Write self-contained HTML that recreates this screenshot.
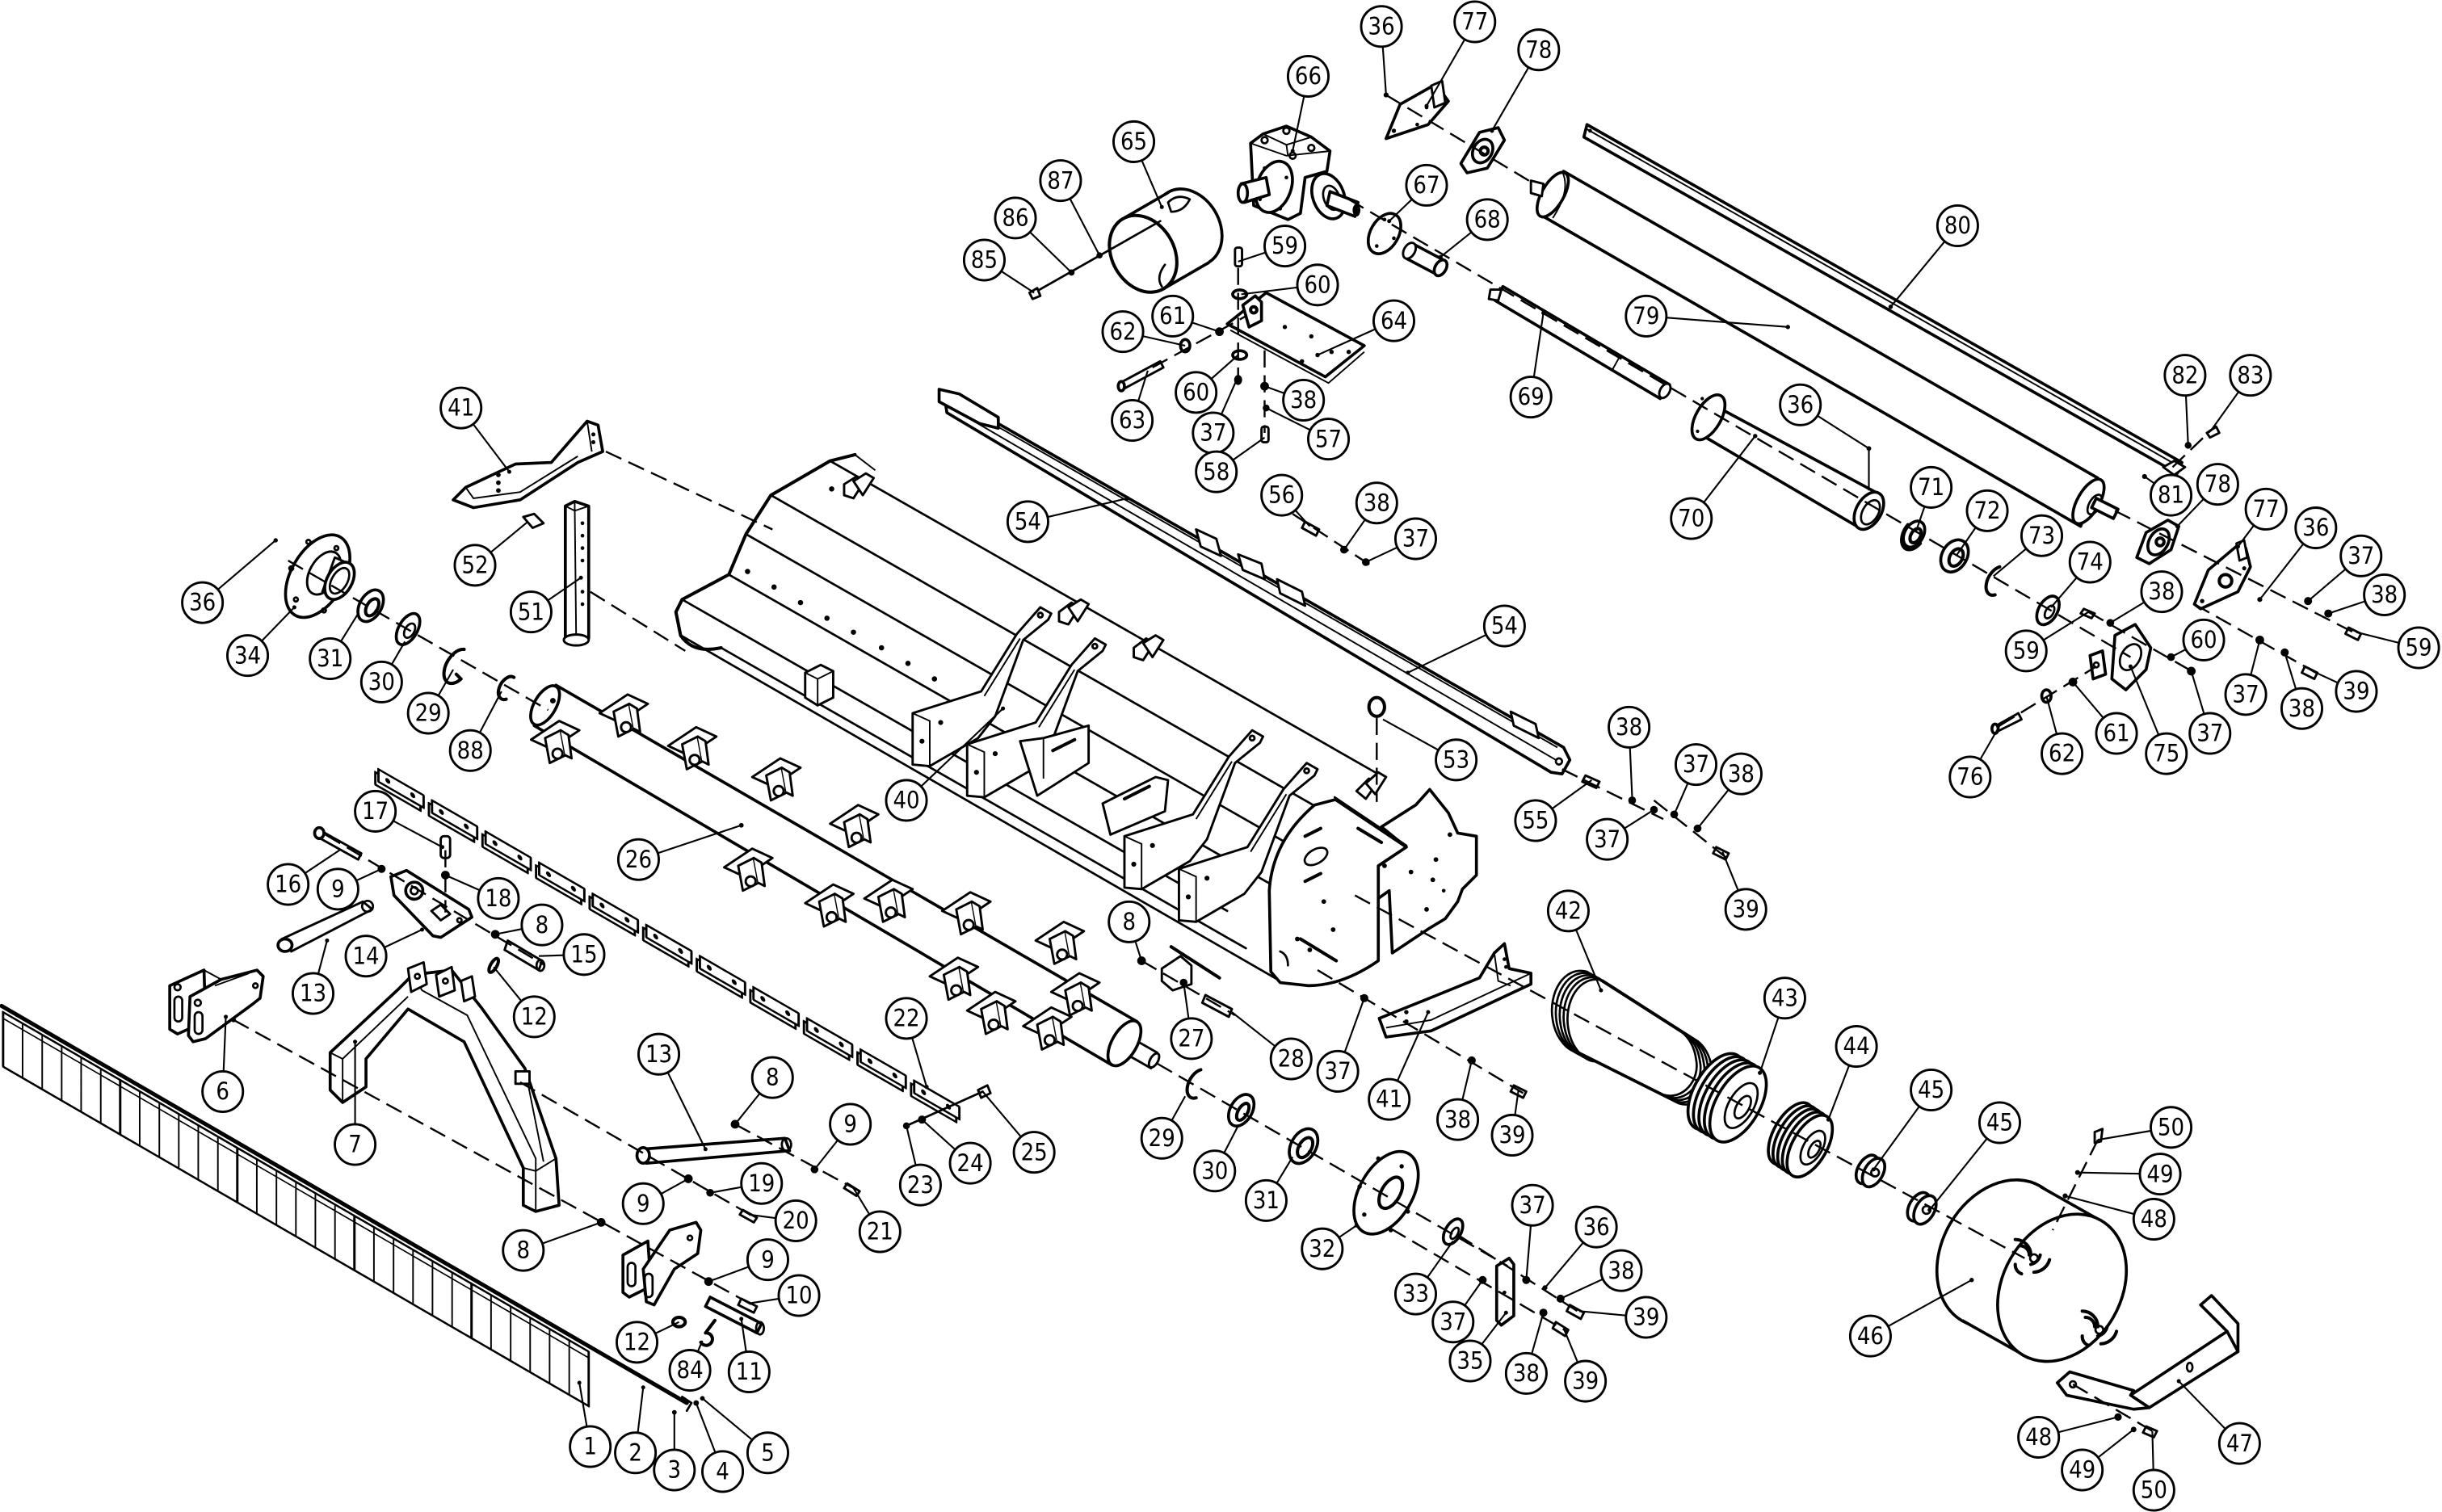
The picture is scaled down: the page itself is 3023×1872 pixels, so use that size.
<!DOCTYPE html>
<html><head><meta charset="utf-8"><title>Exploded parts diagram</title>
<style>
html,body{margin:0;padding:0;background:#fff;}
svg{display:block;}
.p{fill:#fff;stroke:#000;stroke-width:1.5;stroke-linejoin:round;stroke-linecap:round}
.q{fill:#fff;stroke:#000;stroke-width:1.9;stroke-linejoin:round}
.l{fill:none;stroke:#000;stroke-width:1.4;stroke-linecap:round;stroke-linejoin:round}
.b{fill:none;stroke:#000;stroke-width:2.1;stroke-linecap:round;stroke-linejoin:round}
.t{fill:none;stroke:#000;stroke-width:1.0}
.d{fill:none;stroke:#000;stroke-width:1.25;stroke-dasharray:11 5}
.k{fill:#000;stroke:none}
.ld line,.ld path{stroke:#000;stroke-width:1.1;fill:none}
.cc circle{fill:#fff;stroke:#000;stroke-width:1.5}
.cc text{font-family:"Liberation Sans Narrow","DejaVu Sans Condensed","Liberation Sans",sans-serif;font-stretch:condensed;font-size:15px;text-anchor:middle;fill:#000}
</style></head>
<body>
<svg xmlns="http://www.w3.org/2000/svg" width="3023" height="1872" viewBox="0 0 1568 971" preserveAspectRatio="none">
<defs>
<g id="fg"><rect class="p" x="0" y="0" width="75.2" height="35"/><path class="t" d="M12.5,0V35M25.1,0V35M37.6,0V35M50.1,0V35M62.7,0V35M0,4H75.2"/></g>
<g id="fb"><rect class="p" x="-2" y="3" width="29" height="8"/><rect class="p" x="0" y="0" width="29" height="8"/><circle class="k" cx="6" cy="4" r="1.6"/><circle class="k" cx="22" cy="4" r="1.6"/></g>
<g id="lug"><path class="p" d="M-15,-3 L3,-15 L16,-9 L-2,3 Z"/><path class="p" d="M-6,-4 L4,-9 L7,7 L-3,12 Z"/><circle class="p" cx="2" cy="6" r="3.2"/><path class="p" d="M4,-9 L9,-6 L11,9 L7,7"/></g>
<g id="br"><path class="p" d="M586,491 L586,458 L630,444 L653,407 L668,390 L675,394 L673,398 L657,411 L639,460 L628,474 L597,492 Z"/><path class="t" d="M586,458 L597,463 L597,492 M632,447 L655,410"/><circle class="k" cx="592" cy="476" r="1.6"/><circle class="k" cx="604" cy="464" r="1.6"/><circle class="p" cx="668" cy="395" r="1.5"/></g>
</defs>

<!-- ================= FLAP STRIP (1,2) ================= -->
<use href="#fg" transform="translate(2,650) skewY(30.1)"/>
<use href="#fg" transform="translate(77.2,693.6) skewY(30.1)"/>
<use href="#fg" transform="translate(152.4,737.2) skewY(30.1)"/>
<use href="#fg" transform="translate(227.6,780.8) skewY(30.1)"/>
<use href="#fg" transform="translate(302.8,824.4) skewY(30.1)"/>
<path class="b" d="M1,646 L441,901" style="stroke-width:2.6"/>
<path class="l" d="M438,897 L444,901 L441,906"/>
<circle class="k" cx="433" cy="907" r="1.5"/><circle class="k" cx="447" cy="901" r="1.8"/><circle class="k" cx="451" cy="898" r="1.5"/>

<!-- ================= HITCH UPPER BRACKET 6 ================= -->
<path class="q" d="M109,633 L131,623 L132,656 L114,664 L109,661 Z"/>
<rect class="l" x="112" y="640" width="5" height="16" rx="2.5"/>
<circle class="l" cx="114" cy="634" r="2"/>
<path class="q" d="M122,640 L142,629 L165,623 L169,627 L167,641 L162,645 L132,667 L124,669 L121,665 Z"/>
<rect class="l" x="125" y="650" width="5" height="14" rx="2.5"/>
<circle class="l" cx="127" cy="644" r="2"/><circle class="k" cx="150" cy="655" r="1.5"/><circle class="l" cx="164" cy="633" r="1.5"/>
<path class="t" d="M131,623 L142,629 M138,633 L160,625"/>

<!-- ================= A-FRAME 7 ================= -->
<path class="q" d="M212,676 L255,636 L265,626 L290,623 L309,647 L337,686 L357,744 L359,774 L344,778 L336,774 L336,750 L298,669 L262,648 L235,680 L235,698 L220,708 L212,700 Z"/>
<path class="t" d="M220,680 L262,640 M220,680 L220,707 M212,676 L220,680 M265,626 L271,636 L300,652 L344,744 L344,778 M337,686 L349,746 M336,750 L344,752 L357,744"/>
<path class="p" d="M262,622 L272,618 L274,632 L264,637 Z"/><circle class="l" cx="268" cy="627" r="1.6"/>
<path class="p" d="M280,626 L290,621 L292,636 L282,640 Z"/><circle class="l" cx="286" cy="630" r="1.6"/>
<path class="p" d="M296,630 L303,627 L305,640 L298,643 Z"/>
<rect class="p" x="331" y="688" width="9" height="8"/>

<!-- ================= UPPER HITCH PARTS ================= -->
<path class="p" d="M205,533 L232,548 L230,552 L203,537 Z"/><ellipse class="q" cx="205" cy="535" rx="3" ry="3.5"/>
<circle class="k" cx="245" cy="558" r="2.6"/>
<path class="q" d="M251,563 L261,559 L301,584 L303,589 L283,602 L278,601 L253,575 Z"/>
<circle class="q" cx="266" cy="572" r="5.5"/><circle class="l" cx="266" cy="572" r="2.3"/>
<path class="p" d="M277,585 L283,581 L289,587 L283,591 Z"/><circle class="l" cx="295" cy="591" r="1.4"/>
<path class="p" d="M181,603 L233,579 L239,584 L187,611 Z"/><ellipse class="q" cx="183" cy="607" rx="4.5" ry="4"/><ellipse class="l" cx="236" cy="582" rx="3.5" ry="3.5"/>
<rect class="p" x="283" y="537" width="6" height="14" rx="2"/><circle class="k" cx="286" cy="562" r="2.8"/>
<circle class="k" cx="318" cy="600" r="2.8"/>
<path class="p" d="M326,604 L348,617 L346,623 L324,610 Z"/><ellipse class="l" cx="347" cy="620" rx="2.5" ry="3.5"/>
<ellipse class="b" cx="317" cy="620" rx="2" ry="5" transform="rotate(30 317 620)"/>

<!-- ================= LOWER HITCH ================= -->
<path class="q" d="M412,738 L504,731 L507,739 L415,747 Z"/><ellipse class="q" cx="413" cy="742" rx="4" ry="5"/><ellipse class="l" cx="505" cy="735" rx="3" ry="4"/>
<circle class="k" cx="472" cy="722" r="2.8"/><circle class="k" cx="442" cy="757" r="2.8"/><circle class="k" cx="456" cy="766" r="2.5"/>
<path class="p" d="M477,777 L486,782 L484,785 L475,780 Z"/>
<circle class="k" cx="523" cy="751" r="2.5"/><path class="p" d="M544,760 L552,765 L550,768 L542,763 Z"/>
<path class="q" d="M400,806 L416,797 L418,826 L404,833 L400,830 Z"/><rect class="l" x="403" y="811" width="5" height="15" rx="2.5"/>
<path class="q" d="M413,815 L430,790 L447,785 L450,790 L448,805 L433,815 L420,838 L415,836 Z"/><rect class="l" x="414" y="818" width="5" height="15" rx="2.5"/><circle class="l" cx="443" cy="795" r="1.5"/>
<circle class="k" cx="386" cy="785" r="2.8"/><circle class="k" cx="455" cy="823" r="2.8"/>
<path class="p" d="M476,834 L486,839 L484,843 L474,838 Z"/>
<path class="q" d="M456,833 L489,850 L486,856 L453,839 Z"/><ellipse class="l" cx="488" cy="853" rx="2.5" ry="4"/>
<ellipse class="b" cx="436" cy="849" rx="4" ry="3"/>
<path class="b" d="M450,862 a4,4 0 1,0 3,-6 l6,-8"/>

<!-- ================= FLAIL BAR ROW (22) ================= -->
<use href="#fb" transform="translate(243,494) skewY(30)"/>
<use href="#fb" transform="translate(277.4,514) skewY(30)"/>
<use href="#fb" transform="translate(311.8,534) skewY(30)"/>
<use href="#fb" transform="translate(346.2,554) skewY(30)"/>
<use href="#fb" transform="translate(380.6,574) skewY(30)"/>
<use href="#fb" transform="translate(415,594) skewY(30)"/>
<use href="#fb" transform="translate(449.4,614) skewY(30)"/>
<use href="#fb" transform="translate(483.8,634) skewY(30)"/>
<use href="#fb" transform="translate(518.2,654) skewY(30)"/>
<use href="#fb" transform="translate(552.6,674) skewY(30)"/>
<use href="#fb" transform="translate(587,694) skewY(30)"/>
<circle class="k" cx="582" cy="723" r="2.2"/><circle class="k" cx="592" cy="719" r="2.6"/><path class="p" d="M628,700 L634,697 L636,702 L630,705 Z"/>
<path class="l" d="M582,723 L631,701"/>

<!-- ================= LEFT SHIELD 41, STAND 51, PIN 52 ================= -->
<path class="q" d="M291,321 L299,313 L331,298 L354,297 L377,270.5 L384,273 L387,290 L371,297 L334,321 L304,326 Z"/>
<path class="t" d="M299,313 L304,320 L334,316 L371,293 M377,270.5 L380,290"/>
<circle class="k" cx="320" cy="305" r="1.5"/><circle class="k" cx="320" cy="310" r="1.5"/><circle class="k" cx="320" cy="315" r="1.5"/><circle class="k" cx="381" cy="279" r="1.3"/><circle class="k" cx="381" cy="284" r="1.3"/>
<path class="q" d="M363,325 L369,322 L378,325 L378,410 L370,414 L363,410 Z"/><path class="t" d="M369,322 L370,414 M363,325 L369,328 L378,325"/>
<circle class="k" cx="374" cy="336" r="1.2"/><circle class="k" cx="374" cy="344" r="1.2"/><circle class="k" cx="374" cy="352" r="1.2"/><circle class="k" cx="374" cy="360" r="1.2"/><circle class="k" cx="374" cy="380" r="1.2"/><circle class="k" cx="374" cy="388" r="1.2"/>
<ellipse class="p" cx="370" cy="411" rx="8" ry="3.5"/>
<path class="p" d="M336,332 L343,330 L349,336 L342,339 Z"/>

<!-- ================= LEFT BEARING SET ================= -->
<circle class="k" cx="177" cy="347" r="1.4"/>
<ellipse class="q" cx="204" cy="370" rx="17" ry="29" transform="rotate(30 204 370)"/>
<circle class="l" cx="198" cy="348" r="1.3"/><circle class="l" cx="216" cy="352" r="1.3"/><circle class="l" cx="190" cy="385" r="1.3"/><circle class="l" cx="208" cy="392" r="1.3"/><circle class="l" cx="187" cy="365" r="1.3"/>
<ellipse class="p" cx="208" cy="368" rx="9" ry="15" transform="rotate(30 208 368)"/>
<path class="p" d="M215,358 L224,362 L216,384 L207,380 Z"/>
<ellipse class="q" cx="218" cy="373" rx="8" ry="13" transform="rotate(30 218 373)"/><ellipse class="l" cx="218" cy="373" rx="5" ry="9" transform="rotate(30 218 373)"/>
<ellipse class="q" cx="238" cy="389" rx="7" ry="11" transform="rotate(30 238 389)"/><ellipse class="b" cx="239" cy="390" rx="3.5" ry="6" transform="rotate(30 239 390)"/>
<ellipse class="q" cx="262" cy="404" rx="6" ry="11" transform="rotate(30 262 404)"/><ellipse class="l" cx="263" cy="405" rx="3" ry="5" transform="rotate(30 263 405)"/>
<path class="b" d="M298,417 A7,12 30 1,0 296,436 M296,436 l-3,-3"/>
<path class="b" d="M330,435 A5,8 30 1,0 325,449"/>

<!-- ================= HOOD ================= -->
<g class="l">
<path d="M533,296 L883,496"/>
<path d="M495,318 L845,518"/>
<path d="M479,343 L829,543"/>
<path d="M468,369 L818,569"/>
<path d="M438,385 L788,585"/>
<path d="M437,408 L822,630"/>
<path d="M463,416 L800,609"/>
</g>
<path class="b" d="M549,292 L533,296 L495,318 L479,343 L468,369 L438,385 L434,393 L437,408 Q445,420 463,416"/>
<path class="t" d="M533,296 L549,292 L562,302"/>
<circle class="k" cx="480" cy="367" r="1.7"/><circle class="k" cx="497" cy="377" r="1.7"/><circle class="k" cx="514" cy="387" r="1.7"/><circle class="k" cx="531" cy="397" r="1.7"/><circle class="k" cx="548" cy="406" r="1.7"/><circle class="k" cx="566" cy="416" r="1.7"/><circle class="k" cx="583" cy="426" r="1.7"/><circle class="k" cx="600" cy="436" r="1.7"/>
<circle class="k" cx="534" cy="314" r="1.7"/>
<path class="p" d="M542,311 L550,306 L555,309 L548,320 L542,318 Z"/><path class="p" d="M548,309 L556,304 L561,307 L554,318 Z"/>
<path class="p" d="M680,393 L688,387 L693,390 L686,401 L680,399 Z"/><path class="p" d="M686,390 L694,385 L699,388 L692,399 Z"/>
<path class="p" d="M728,416 L736,410 L741,413 L734,424 L728,422 Z"/><path class="p" d="M734,413 L742,408 L747,411 L740,422 Z"/>
<path class="p" d="M517,432 L527,427 L535,431 L535,448 L525,453 L517,448 Z"/><path class="t" d="M517,432 L525,436 L525,453 M525,436 L535,431"/>
<!-- brackets 40 -->
<use href="#br"/>
<use href="#br" transform="translate(35,20)"/>
<path class="p" d="M655,476 L670,474 L699,466 L699,490 L666,511 Z"/><path class="b" d="M676,482 L690,475"/><path class="t" d="M670,474 L670,500"/>
<path class="p" d="M708,516 L742,499 L750,501 L748,521 L713,536 Z"/><path class="b" d="M722,513 L738,505"/>
<use href="#br" transform="translate(136,79)"/>
<use href="#br" transform="translate(171,100)"/>
<!-- eye bolt 53 -->
<ellipse class="b" cx="884" cy="454" rx="5" ry="6"/>
<path class="p" d="M871,508 L879,500 L884,503 L877,513 Z"/><path class="p" d="M877,503 L885,496 L890,499 L883,510 Z"/>
<!-- end plate -->
<path class="q" d="M885,556 L903,544 L887,531 L909,517 L918,507 L930,522 L936,535 L948,537 L948,562 L939,571 L936,579 L928,590 L918,596 L894,612 L892,572 L885,577 Z"/>
<path class="q" d="M816,624 L815,572 Q817,540 844,517 L857.5,513.5 L903,544 L885,556 L885,617 Q862,633 840,633 L822,631 Z"/>
<path class="l" d="M857,512 L903,543"/>
<ellipse class="l" cx="845" cy="550" rx="8" ry="4.5" transform="rotate(-30 845 550)"/>
<path class="b" d="M838,537 L848,532 M838,566 L848,561 M835,603 L858,617 M872,532 L887,541"/>
<circle class="k" cx="850" cy="579" r="1.5"/><circle class="k" cx="856" cy="597" r="1.5"/><circle class="k" cx="833" cy="603" r="1.5"/><circle class="k" cx="841" cy="610" r="1.5"/><circle class="k" cx="889" cy="556" r="1.5"/><circle class="k" cx="906" cy="560" r="1.5"/><circle class="k" cx="922" cy="552" r="1.5"/><circle class="k" cx="920" cy="565" r="1.5"/><circle class="k" cx="916" cy="584" r="1.5"/><circle class="k" cx="931" cy="536" r="1.5"/><circle class="k" cx="927" cy="572" r="1.2"/>
<path class="l" d="M822,611 q5,2 5,9"/>

<!-- ================= RAIL 54 ================= -->
<path class="q" d="M606,252 L1004,480 L1008,488 L1003,497 L996,496 L608,265 Z"/>
<path class="t" d="M611,257 L1000,480 M609,261 L999,488"/>
<path class="q" d="M603,250 L616,253 L641,268 L641,275 L629,272 L603,258 Z"/>
<path class="p" d="M768,340 L781,346 L784,357 L771,351 Z"/><path class="p" d="M795,356 L810,362 L812,372 L798,366 Z"/>
<path class="p" d="M820,372 L836,380 L838,389 L822,381 Z"/><path class="p" d="M970,457 L986,465 L988,474 L972,466 Z"/>
<circle class="l" cx="1001" cy="489" r="2"/>

<!-- ================= ROTOR 26 ================= -->
<path class="q" d="M357,440 L730,656 L714,684 L343,466 Z"/>
<ellipse class="q" cx="350" cy="453" rx="7" ry="14" transform="rotate(30 350 453)"/>
<circle class="k" cx="355" cy="450" r="1.8"/>
<path class="p" d="M722,664 L743,676 L739,686 L718,674 Z"/>
<ellipse class="q" cx="722" cy="670" rx="8" ry="16" transform="rotate(30 722 670)"/>
<ellipse class="p" cx="741" cy="681" rx="2.5" ry="5" transform="rotate(30 741 681)"/>
<use href="#lug" transform="translate(356,478)"/>
<use href="#lug" transform="translate(400,461)"/>
<use href="#lug" transform="translate(444,482)"/>
<use href="#lug" transform="translate(498,502)"/>
<use href="#lug" transform="translate(548,532)"/>
<use href="#lug" transform="translate(620,588)"/>
<use href="#lug" transform="translate(680,607)"/>
<use href="#lug" transform="translate(480,560)"/>
<use href="#lug" transform="translate(532,583)"/>
<use href="#lug" transform="translate(570,580)"/>
<use href="#lug" transform="translate(612,630)"/>
<use href="#lug" transform="translate(636,652)"/>
<use href="#lug" transform="translate(672,662)"/>
<use href="#lug" transform="translate(690,640)"/>
<circle class="k" cx="476" cy="530" r="1.5"/>

<!-- ================= 27/28, right rotor end parts ================= -->
<circle class="k" cx="733" cy="617" r="2.8"/>
<path class="b" d="M752,608 L783,628"/>
<path class="p" d="M746,622 L758,614 L765,620 L765,632 L753,636 L746,630 Z"/><circle class="k" cx="760" cy="631" r="2.5"/>
<path class="p" d="M774,639 L791,648 L789,653 L772,644 Z"/>
<path class="b" d="M771,687 A6,10 30 1,0 768,705"/>
<ellipse class="q" cx="797" cy="713" rx="7" ry="11" transform="rotate(30 797 713)"/><ellipse class="b" cx="798" cy="714" rx="3" ry="6" transform="rotate(30 798 714)"/>
<ellipse class="q" cx="837" cy="736" rx="8" ry="12" transform="rotate(30 837 736)"/><ellipse class="b" cx="838" cy="737" rx="4" ry="7" transform="rotate(30 838 737)"/>
<ellipse class="q" cx="890" cy="766" rx="17" ry="29" transform="rotate(30 890 766)"/>
<ellipse class="b" cx="893" cy="766" rx="6" ry="11" transform="rotate(30 893 766)"/>
<circle class="k" cx="885" cy="744" r="1.4"/><circle class="k" cx="900" cy="749" r="1.4"/><circle class="k" cx="876" cy="780" r="1.4"/><circle class="k" cx="893" cy="790" r="1.4"/><circle class="k" cx="904" cy="778" r="1.4"/><circle class="k" cx="873" cy="762" r="1.4"/>
<ellipse class="q" cx="933" cy="791" rx="5" ry="9" transform="rotate(30 933 791)"/><ellipse class="l" cx="934" cy="792" rx="2" ry="4" transform="rotate(30 934 792)"/>
<path class="q" d="M961,813 L969,808 L972,812 L972,845 L964,851 L961,848 Z"/><circle class="k" cx="966" cy="830" r="1.2"/>
<circle class="k" cx="952" cy="822" r="2.6"/><circle class="k" cx="980" cy="822" r="2.6"/><circle class="k" cx="992" cy="827" r="1.6"/><circle class="k" cx="1002" cy="834" r="2.6"/>
<path class="p" d="M1008,838 L1017,843 L1015,847 L1006,842 Z"/>
<circle class="k" cx="991" cy="843" r="2.6"/><path class="p" d="M999,849 L1007,854 L1005,858 L997,853 Z"/>

<!-- ================= RIGHT SHIELD 41 ================= -->
<path class="q" d="M885.6,654 L915.5,642 L950,628 L959.5,612 L966,606 L969,622 L983,625 L983,632 L919,662 L890,666 Z"/>
<path class="t" d="M890,660 L919,655 L983,625 M959.5,612 L962,630 L970,633"/>
<circle class="k" cx="903" cy="650" r="1.4"/><circle class="k" cx="903" cy="656" r="1.4"/><circle class="k" cx="966" cy="616" r="1.2"/><circle class="k" cx="967" cy="621" r="1.2"/>
<circle class="k" cx="876" cy="641" r="2.6"/><circle class="k" cx="945" cy="681" r="2.6"/><path class="p" d="M972,697 L980,701 L978,705 L970,701 Z"/>

<!-- ================= BELT / PULLEYS / MOTOR ================= -->
<g class="l">
<path d="M1019,624 C1004,620 994,638 997,655 C999,668 1008,676 1014,676 L1068,703 C1080,707 1092,694 1089,680 C1088,672 1084,666 1080,663 Z"/>
<path transform="translate(2.5,1.4)" d="M1019,624 C1004,620 994,638 997,655 C999,668 1008,676 1014,676 L1068,703 C1080,707 1092,694 1089,680 C1088,672 1084,666 1080,663 Z"/>
<path transform="translate(5,2.8)" d="M1019,624 C1004,620 994,638 997,655 C999,668 1008,676 1014,676 L1068,703 C1080,707 1092,694 1089,680 C1088,672 1084,666 1080,663 Z"/>
<path transform="translate(7.5,4.2)" d="M1019,624 C1004,620 994,638 997,655 C999,668 1008,676 1014,676 L1068,703 C1080,707 1092,694 1089,680 C1088,672 1084,666 1080,663 Z"/>
<path transform="translate(10,5.6)" d="M1019,624 C1004,620 994,638 997,655 C999,668 1008,676 1014,676 L1068,703 C1080,707 1092,694 1089,680 C1088,672 1084,666 1080,663 Z"/>
</g>
<ellipse class="q" cx="1102" cy="701" rx="14" ry="27" transform="rotate(30 1102 701)"/>
<ellipse class="q" cx="1105.5" cy="703" rx="14" ry="27" transform="rotate(30 1105.5 703)"/>
<ellipse class="q" cx="1109" cy="705" rx="14" ry="27" transform="rotate(30 1109 705)"/>
<ellipse class="q" cx="1112.5" cy="707" rx="14" ry="27" transform="rotate(30 1112.5 707)"/>
<ellipse class="q" cx="1116" cy="709" rx="14" ry="27" transform="rotate(30 1116 709)"/>
<ellipse class="l" cx="1118" cy="710" rx="8" ry="16" transform="rotate(30 1118 710)"/><ellipse class="l" cx="1119" cy="711" rx="4" ry="8" transform="rotate(30 1119 711)"/>
<ellipse class="q" cx="1150" cy="728" rx="11" ry="22" transform="rotate(30 1150 728)"/>
<ellipse class="q" cx="1153" cy="730" rx="11" ry="22" transform="rotate(30 1153 730)"/>
<ellipse class="q" cx="1156" cy="732" rx="11" ry="22" transform="rotate(30 1156 732)"/>
<ellipse class="q" cx="1159" cy="734" rx="11" ry="22" transform="rotate(30 1159 734)"/>
<ellipse class="q" cx="1162" cy="736" rx="11" ry="22" transform="rotate(30 1162 736)"/>
<ellipse class="l" cx="1164" cy="737" rx="6" ry="12" transform="rotate(30 1164 737)"/><ellipse class="l" cx="1165" cy="738" rx="3" ry="6" transform="rotate(30 1165 738)"/>
<ellipse class="q" cx="1199" cy="751" rx="6" ry="10" transform="rotate(30 1199 751)"/><ellipse class="q" cx="1203" cy="753" rx="6" ry="10" transform="rotate(30 1203 753)"/><circle class="l" cx="1204" cy="753" r="2.5"/>
<ellipse class="q" cx="1232" cy="775" rx="6" ry="10" transform="rotate(30 1232 775)"/><ellipse class="q" cx="1236" cy="777" rx="6" ry="10" transform="rotate(30 1236 777)"/><circle class="l" cx="1237" cy="777" r="2.5"/>
<!-- motor -->
<ellipse class="q" cx="1285" cy="805" rx="38" ry="50" transform="rotate(30 1285 805)"/>
<path fill="#fff" stroke="none" d="M1310,762 L1349,784 L1299,870 L1260,848 Z"/>
<path class="q" d="M1310,762 L1349,784 M1260,848 L1299,870"/>
<ellipse class="q" cx="1324" cy="827" rx="38" ry="50" transform="rotate(30 1324 827)"/>
<g class="b">
<path d="M1297,800 a6,6 0 0,1 6,6 M1294,796 a10,10 0 0,1 10,10 M1298,818 a6,6 0 0,1 -4,-6 M1304,812 a8,8 0 0,0 6,-6 M1306,817 a11,11 0 0,0 10,-8"/>
<path d="M1339,846 a6,6 0 0,1 6,6 M1337,842 a10,10 0 0,1 10,10 M1341,864 a6,6 0 0,1 -4,-6 M1347,858 a8,8 0 0,0 6,-6 M1349,863 a11,11 0 0,0 10,-8"/>
</g>
<circle class="l" cx="1306" cy="808" r="2.5"/><circle class="l" cx="1348" cy="854" r="2.5"/>
<circle class="k" cx="1266" cy="822" r="1.4"/>
<path class="p" d="M1345,727 L1350,725 L1349,733 L1345,734 Z"/><circle class="k" cx="1334" cy="753" r="1.6"/><circle class="k" cx="1326" cy="768" r="1.6"/>
<!-- bracket 47 -->
<path class="q" d="M1413,838 L1420,832 L1437,850 L1437,868 L1430,872 L1430,855 Z"/>
<path class="q" d="M1430,855 L1437,868 L1380,904 L1368,896 Z"/>
<path class="q" d="M1321,888 L1329,881 L1370,893 L1368,896 L1380,904 L1370,905 L1327,896 Z"/>
<ellipse class="l" cx="1406" cy="878" rx="1.8" ry="2.8"/><circle class="l" cx="1331" cy="889" r="2"/><circle class="k" cx="1399" cy="887" r="1.3"/>
<circle class="k" cx="1360" cy="910" r="2.4"/><circle class="k" cx="1370" cy="918" r="1.8"/><path class="p" d="M1378,916 L1385,919 L1383,923 L1376,920 Z"/>

<!-- ================= TOP GROUP ================= -->
<!-- guard 65 -->
<ellipse class="q" cx="763" cy="146" rx="20" ry="26" transform="rotate(-30 763 146)"/>
<path fill="#fff" stroke="none" d="M721,140.5 L750.4,123.5 L776.4,168.5 L747,185.5 Z"/>
<path class="q" d="M721,140.5 L750.4,123.5 M747,185.5 L776.4,168.5"/>
<ellipse class="b" cx="734" cy="163" rx="20" ry="26" transform="rotate(-30 734 163)" fill="#fff"/>
<path class="l" d="M750,130 q6,-6 14,-2 q-4,8 -12,8 Z"/><path class="l" d="M748,170 q-6,8 -2,14"/>
<path class="l" d="M664,188 L745,142"/>
<path class="p" d="M661,188 L666,185 L668,190 L663,192 Z"/><circle class="k" cx="688" cy="175" r="2"/><circle class="k" cx="706" cy="164" r="2"/>
<!-- gearbox 66 -->
<path class="q" d="M803,92 L811,86 L826,81 L842,88 L854,97 L852,110 L838,114 L835,137 L827,141 L805,132 Z"/>
<path class="t" d="M811,86 L826,93 L842,88 M826,93 L827,100 M803,92 L826,100 L854,97"/>
<circle class="l" cx="812" cy="90" r="2"/><circle class="l" cx="826" cy="84" r="2"/><circle class="l" cx="842" cy="95" r="2"/><circle class="l" cx="830" cy="100" r="2"/>
<ellipse class="q" cx="818" cy="120" rx="11" ry="17" transform="rotate(20 818 120)"/>
<circle class="k" cx="812" cy="108" r="1.2"/><circle class="k" cx="826" cy="114" r="1.2"/><circle class="k" cx="822" cy="134" r="1.2"/><circle class="k" cx="809" cy="128" r="1.2"/>
<path class="q" d="M797,118 L813,114 L815,125 L799,130 Z"/><ellipse class="q" cx="798" cy="124" rx="3" ry="6"/>
<ellipse class="q" cx="853" cy="126" rx="10" ry="15" transform="rotate(-20 853 126)"/><ellipse class="l" cx="855" cy="127" rx="5" ry="8" transform="rotate(-20 855 127)"/>
<path class="q" d="M854,123 L872,130 L870,139 L852,132 Z"/><ellipse class="k" cx="871" cy="135" rx="2.5" ry="4"/>
<!-- 67, 68 -->
<ellipse class="q" cx="889" cy="150" rx="9" ry="14" transform="rotate(30 889 150)"/><circle class="k" cx="889" cy="141" r="1.2"/><circle class="k" cx="884" cy="158" r="1.2"/><circle class="k" cx="895" cy="153" r="1.2"/>
<path class="q" d="M908,157 L927,167 L922,176 L903,166 Z"/><ellipse class="q" cx="925" cy="172" rx="3.5" ry="5.5" transform="rotate(30 925 172)"/><ellipse class="p" cx="905" cy="161" rx="3.5" ry="5.5" transform="rotate(30 905 161)"/>
<!-- 69 shaft -->
<path class="q" d="M965,184 L1072,247 L1066,256 L960,193 Z"/><path class="t" d="M1040,229 L1035,238"/>
<ellipse class="p" cx="1069" cy="251" rx="3" ry="5" transform="rotate(30 1069 251)"/><path class="p" d="M957,186 L964,186 L962,193 L956,192 Z"/>
<!-- 70 tube -->
<path class="q" d="M1102,261 L1206,317 L1194,339 L1092,279 Z"/>
<ellipse class="q" cx="1097" cy="268" rx="8" ry="16" transform="rotate(30 1097 268)"/><circle class="k" cx="1093" cy="256" r="1.1"/><circle class="k" cx="1090" cy="277" r="1.1"/>
<ellipse class="q" cx="1200" cy="328" rx="8" ry="13" transform="rotate(30 1200 328)"/><ellipse class="l" cx="1201" cy="329" rx="5" ry="8.5" transform="rotate(30 1201 329)"/>
<circle class="k" cx="1127" cy="280" r="1.4"/>
<!-- roller 79 -->
<path class="q" d="M1004,110 L1347,307 L1336,338 L991,139 Z"/>
<ellipse class="q" cx="997" cy="125" rx="7" ry="16" transform="rotate(30 997 125)"/><path class="t" d="M1003,110 Q1009,122 997,140"/>
<path class="p" d="M983,116 L991,118 L990,126 L983,124 Z"/>
<ellipse class="q" cx="1341" cy="322" rx="7" ry="16" transform="rotate(30 1341 322)"/><ellipse class="l" cx="1345" cy="324" rx="3.5" ry="7" transform="rotate(30 1345 324)"/>
<path class="q" d="M1346,320 L1360,327 L1357,333 L1343,326 Z"/>
<circle class="k" cx="1148" cy="210" r="1.4"/>
<!-- bar 80 -->
<path class="q" d="M1019,80 L1401,297 L1398,304 L1017,88 Z"/><path class="t" d="M1019,83 L1400,300"/>
<circle class="k" cx="1021" cy="84" r="1.2"/><circle class="k" cx="1214" cy="197" r="1.4"/>
<path class="p" d="M1389,300 L1396,296 L1403,300 L1396,305 Z"/><circle class="k" cx="1377" cy="306" r="1.6"/>
<circle class="k" cx="1405" cy="286" r="2.2"/><path class="p" d="M1417,278 L1423,274 L1425,278 L1419,281 Z"/>
<!-- top 77, 78 -->
<path class="q" d="M890,89 L899,67 L922,54 L930,65 L917,80 Z"/><path class="p" d="M919,55 L926,52 L928,66 L921,69 Z"/>
<circle class="k" cx="895" cy="84" r="1.4"/><circle class="k" cx="910" cy="80" r="1.2"/><circle class="k" cx="916" cy="69" r="1.2"/>
<path class="q" d="M938,105 L950,85 L962,82 L966,90 L955,108 L942,111 Z"/><ellipse class="q" cx="952" cy="97" rx="6" ry="8" transform="rotate(30 952 97)"/><circle class="b" cx="953" cy="97" r="2.5"/>
<circle class="k" cx="890" cy="61" r="1.6"/>
<!-- plate 64 & hardware -->
<path class="q" d="M788,208 L813,188 L876,222 L851,242 Z"/><path class="t" d="M790,212 L853,246 L876,226"/>
<path class="q" d="M798,196 L806,190 L810,194 L810,206 L802,210 Z"/><circle class="b" cx="805" cy="199" r="2"/>
<circle class="k" cx="825" cy="210" r="1.4"/><circle class="k" cx="842" cy="216" r="1.4"/><circle class="k" cx="855" cy="226" r="1.4"/><circle class="k" cx="836" cy="232" r="1.4"/><circle class="k" cx="846" cy="228" r="1.4"/><circle class="k" cx="866" cy="226" r="1.4"/>
<rect class="p" x="793" y="159" width="4.5" height="12" rx="1.5"/>
<ellipse class="q" cx="796" cy="189" rx="4.5" ry="2.8"/><ellipse class="q" cx="796" cy="228" rx="4.5" ry="2.8"/>
<ellipse class="k" cx="795" cy="244" rx="2.6" ry="3.2"/>
<circle class="k" cx="812" cy="248" r="2.8"/><circle class="k" cx="813" cy="262" r="2.2"/><rect class="p" x="810" y="274" width="4.5" height="10" rx="1.5"/>
<path class="p" d="M719,246 L745,232 L747,236 L721,250 Z"/><ellipse class="q" cx="720" cy="248" rx="2" ry="3"/>
<ellipse class="q" cx="761" cy="222" rx="3" ry="4"/><circle class="k" cx="783" cy="213" r="2.8"/>
<!-- 56/38/37 -->
<path class="p" d="M838,335 L847,340 L845,344 L836,339 Z"/><circle class="k" cx="863" cy="353" r="2.5"/><circle class="k" cx="877" cy="361" r="2.5"/>
<!-- 55 etc -->
<path class="p" d="M1018,498 L1027,502 L1025,506 L1016,502 Z"/><circle class="k" cx="1048" cy="514" r="2.5"/><circle class="k" cx="1062" cy="520" r="2.5"/><circle class="k" cx="1075" cy="523" r="2.5"/><circle class="k" cx="1090" cy="532" r="2.5"/><path class="p" d="M1102,544 L1110,548 L1108,552 L1100,548 Z"/>

<!-- ================= RIGHT BEARING GROUP ================= -->
<path class="b" d="M1225,337 A5,8 30 1,0 1233,349"/>
<ellipse class="q" cx="1229" cy="343" rx="6" ry="9" transform="rotate(30 1229 343)"/><ellipse class="b" cx="1230" cy="344" rx="3" ry="5" transform="rotate(30 1230 344)"/>
<ellipse class="q" cx="1255" cy="357" rx="8" ry="11" transform="rotate(30 1255 357)"/><ellipse class="b" cx="1256" cy="358" rx="4" ry="6" transform="rotate(30 1256 358)"/>
<path class="b" d="M1284,364 A6,10 30 1,0 1281,382"/>
<ellipse class="q" cx="1315" cy="392" rx="6" ry="10" transform="rotate(30 1315 392)"/><ellipse class="l" cx="1316" cy="393" rx="2.5" ry="4.5" transform="rotate(30 1316 393)"/>
<path class="q" d="M1372,358 L1378,342 L1392,334 L1399,338 L1394,353 L1380,362 Z"/><ellipse class="q" cx="1386" cy="348" rx="6" ry="9" transform="rotate(30 1386 348)"/><circle class="b" cx="1387" cy="348" r="2.5"/>
<path class="q" d="M1409,388 L1418,366 L1437,350 L1442,352 L1445,364 L1437,380 L1413,391 Z"/><path class="p" d="M1436,349 L1441,347 L1443,358 L1438,360 Z"/><circle class="b" cx="1429" cy="373" r="4"/><circle class="k" cx="1414" cy="386" r="1.4"/><circle class="k" cx="1441" cy="365" r="1.3"/>
<path class="q" d="M1358,408 L1371,401 L1381,416 L1378,430 L1365,443 L1356,436 Z"/><ellipse class="l" cx="1368" cy="422" rx="6" ry="9" transform="rotate(30 1368 422)"/>
<path class="q" d="M1342,421 L1350,418 L1352,433 L1344,436 Z"/><circle class="l" cx="1346" cy="427" r="1.6"/>
<path class="p" d="M1338,391 L1345,394 L1343,397 L1336,394 Z"/><circle class="k" cx="1355" cy="400" r="2.5"/><circle class="k" cx="1394" cy="422" r="2.5"/><circle class="k" cx="1407" cy="431" r="2.8"/>
<circle class="k" cx="1331" cy="438" r="2.8"/><ellipse class="q" cx="1314" cy="447" rx="3" ry="4"/><path class="p" d="M1280,467 L1296,458 L1298,462 L1282,470 Z"/><ellipse class="q" cx="1281" cy="468" rx="2" ry="3"/>
<circle class="k" cx="1451" cy="385" r="1.6"/><circle class="k" cx="1482" cy="386" r="2.6"/><circle class="k" cx="1495" cy="394" r="2.6"/><path class="p" d="M1508,403 L1516,407 L1514,411 L1506,407 Z"/>
<circle class="k" cx="1451" cy="411" r="2.8"/><circle class="k" cx="1467" cy="419" r="2.6"/><path class="p" d="M1480,428 L1488,432 L1486,436 L1478,432 Z"/>

<!-- ================= DASHED AXES ================= -->
<g class="d">
<path d="M185,360 L352,456"/>
<path d="M743,683 L968,813"/>
<path d="M893,789 L1006,855"/>
<path d="M936,793 L1016,844"/>
<path d="M389,290 L496,340"/>
<path d="M379,380 L440,418"/>
<path d="M870,575 L1300,808"/>
<path d="M846,623 L978,702"/>
<path d="M150,655 L483,838"/>
<path d="M334,695 L485,782"/>
<path d="M472,722 L550,764"/>
<path d="M209,536 L350,620"/>
<path d="M286,546 L286,586"/>
<path d="M733,617 L793,652"/>
<path d="M890,61 L985,118"/>
<path d="M866,128 L1368,422"/>
<path d="M1358,328 L1515,408"/>
<path d="M1409,388 L1487,432"/>
<path d="M1284,466 L1346,428"/>
<path d="M1341,393 L1409,432"/>
<path d="M795,172 L795,245"/>
<path d="M812,225 L812,278"/>
<path d="M740,236 L800,203"/>
<path d="M830,330 L880,363"/>
<path d="M1003,494 L1068,526"/>
<path d="M1062,514 L1110,552"/>
<path d="M884,461 L884,515"/>
<path d="M1395,300 L1420,276"/>
<path d="M1347,732 L1318,790"/>
<path d="M1331,889 L1382,919"/>
</g>

<!-- ================= LEADERS ================= -->
<g class="ld">
<line x1="887" y1="17" x2="890" y2="61"/><line x1="947" y1="14" x2="916" y2="68"/><line x1="988" y1="32" x2="958" y2="84"/><line x1="840" y1="49" x2="830" y2="97"/><line x1="728" y1="91" x2="746" y2="133"/><line x1="681" y1="116" x2="706" y2="164"/><line x1="652" y1="140" x2="688" y2="175"/><line x1="632" y1="167" x2="664" y2="188"/><line x1="916" y1="119" x2="892" y2="142"/><line x1="955" y1="141" x2="925" y2="165"/><line x1="825" y1="158" x2="795" y2="168"/><line x1="846" y1="183" x2="797" y2="189"/><line x1="753" y1="203" x2="783" y2="213"/><line x1="721" y1="213" x2="761" y2="222"/><line x1="895" y1="206" x2="846" y2="228"/><line x1="727" y1="270" x2="737" y2="238"/><line x1="768" y1="252" x2="795" y2="228"/><line x1="837" y1="257" x2="812" y2="248"/><line x1="779" y1="278" x2="794" y2="244"/><line x1="853" y1="282" x2="813" y2="262"/><line x1="781" y1="303" x2="812" y2="281"/><line x1="823" y1="318" x2="841" y2="338"/><line x1="884" y1="323" x2="863" y2="353"/><line x1="909" y1="346" x2="877" y2="361"/><line x1="660" y1="335" x2="724" y2="320"/><line x1="1257" y1="145" x2="1214" y2="197"/><line x1="1057" y1="203" x2="1148" y2="210"/><line x1="983" y1="255" x2="991" y2="201"/><line x1="1086" y1="333" x2="1127" y2="280"/><path d="M1156,260 L1200,288 L1200,315"/><line x1="1403" y1="241" x2="1405" y2="286"/><line x1="1445" y1="241" x2="1420" y2="276"/><line x1="1240" y1="313" x2="1230" y2="342"/><line x1="1276" y1="328" x2="1256" y2="357"/><line x1="1311" y1="344" x2="1280" y2="370"/><line x1="1342" y1="361" x2="1317" y2="390"/><line x1="1394" y1="318" x2="1377" y2="306"/><line x1="1424" y1="311" x2="1398" y2="338"/><line x1="1455" y1="327" x2="1437" y2="351"/><line x1="1487" y1="339" x2="1451" y2="385"/><line x1="1516" y1="357" x2="1482" y2="386"/><line x1="1531" y1="382" x2="1495" y2="394"/><line x1="1553" y1="416" x2="1513" y2="406"/><line x1="1388" y1="380" x2="1355" y2="400"/><line x1="1301" y1="418" x2="1341" y2="393"/><line x1="1415" y1="411" x2="1394" y2="422"/><line x1="1442" y1="446" x2="1451" y2="411"/><line x1="1478" y1="455" x2="1467" y2="419"/><line x1="1513" y1="444" x2="1485" y2="431"/><line x1="1419" y1="471" x2="1407" y2="431"/><line x1="1391" y1="484" x2="1368" y2="428"/><line x1="1359" y1="471" x2="1331" y2="438"/><line x1="1324" y1="484" x2="1314" y2="447"/><line x1="1265" y1="499" x2="1284" y2="466"/>
<line x1="296" y1="262" x2="327" y2="303"/><line x1="305" y1="363" x2="339" y2="335"/><line x1="341" y1="393" x2="373" y2="371"/><line x1="130" y1="387" x2="177" y2="347"/><line x1="159" y1="421" x2="189" y2="390"/><line x1="212" y1="423" x2="230" y2="394"/><line x1="245" y1="438" x2="260" y2="412"/><line x1="275" y1="458" x2="291" y2="430"/><line x1="302" y1="482" x2="322" y2="444"/><line x1="966" y1="402" x2="904" y2="432"/><line x1="935" y1="488" x2="888" y2="462"/><line x1="1046" y1="467" x2="1048" y2="512"/><line x1="986" y1="527" x2="1022" y2="501"/><line x1="1032" y1="539" x2="1062" y2="520"/><line x1="1089" y1="491" x2="1075" y2="523"/><line x1="1118" y1="497" x2="1090" y2="532"/><line x1="1121" y1="584" x2="1106" y2="547"/><line x1="582" y1="514" x2="644" y2="455"/><line x1="410" y1="552" x2="476" y2="530"/><line x1="241" y1="521" x2="284" y2="544"/><line x1="185" y1="568" x2="218" y2="546"/><line x1="217" y1="571" x2="245" y2="558"/><line x1="320" y1="577" x2="286" y2="562"/><line x1="348" y1="594" x2="318" y2="600"/><line x1="375" y1="613" x2="346" y2="614"/><line x1="235" y1="614" x2="271" y2="597"/><line x1="201" y1="638" x2="210" y2="604"/><line x1="343" y1="653" x2="317" y2="621"/><line x1="143" y1="701" x2="145" y2="653"/><line x1="228" y1="735" x2="228" y2="669"/><line x1="725" y1="592" x2="733" y2="617"/><line x1="765" y1="667" x2="760" y2="631"/><line x1="829" y1="680" x2="791" y2="650"/><line x1="859" y1="688" x2="876" y2="641"/><line x1="892" y1="706" x2="917" y2="650"/><line x1="936" y1="719" x2="945" y2="681"/><line x1="971" y1="729" x2="975" y2="700"/><line x1="1007" y1="585" x2="1028" y2="636"/><line x1="1146" y1="641" x2="1130" y2="689"/><line x1="1192" y1="672" x2="1174" y2="719"/><line x1="1240" y1="700" x2="1203" y2="751"/><line x1="1284" y1="721" x2="1239" y2="777"/><line x1="1394" y1="724" x2="1347" y2="732"/><line x1="1387" y1="754" x2="1334" y2="753"/><line x1="1383" y1="783" x2="1326" y2="768"/><line x1="1201" y1="858" x2="1266" y2="822"/><line x1="1438" y1="927" x2="1399" y2="887"/><line x1="1309" y1="923" x2="1360" y2="910"/><line x1="1337" y1="944" x2="1370" y2="918"/><line x1="1383" y1="957" x2="1382" y2="919"/><line x1="582" y1="654" x2="595" y2="698"/><line x1="591" y1="761" x2="582" y2="723"/><line x1="623" y1="747" x2="592" y2="719"/><line x1="664" y1="740" x2="631" y2="701"/><line x1="565" y1="791" x2="548" y2="763"/><line x1="746" y1="731" x2="761" y2="704"/><line x1="780" y1="752" x2="795" y2="723"/><line x1="813" y1="771" x2="830" y2="743"/><line x1="849" y1="802" x2="871" y2="787"/><line x1="909" y1="831" x2="933" y2="797"/><line x1="933" y1="849" x2="952" y2="822"/><line x1="944" y1="873" x2="967" y2="843"/><line x1="980" y1="882" x2="991" y2="843"/><line x1="1018" y1="887" x2="1004" y2="853"/><line x1="984" y1="774" x2="980" y2="822"/><line x1="1025" y1="788" x2="992" y2="827"/><line x1="1041" y1="816" x2="1002" y2="834"/><line x1="1057" y1="846" x2="1014" y2="842"/><line x1="423" y1="677" x2="453" y2="738"/><line x1="496" y1="692" x2="472" y2="722"/><line x1="413" y1="773" x2="442" y2="757"/><line x1="489" y1="760" x2="456" y2="766"/><line x1="511" y1="784" x2="481" y2="780"/><line x1="546" y1="722" x2="523" y2="751"/><line x1="336" y1="803" x2="386" y2="785"/><line x1="493" y1="809" x2="455" y2="823"/><line x1="513" y1="832" x2="481" y2="837"/><line x1="409" y1="862" x2="436" y2="849"/><line x1="443" y1="880" x2="451" y2="861"/><line x1="481" y1="881" x2="476" y2="847"/><line x1="379" y1="929" x2="372" y2="888"/><line x1="408" y1="933" x2="413" y2="891"/><line x1="433" y1="944" x2="433" y2="907"/><line x1="464" y1="945" x2="447" y2="901"/><line x1="493" y1="933" x2="451" y2="898"/>
</g>
<g class="k">
<circle cx="916" cy="68" r="1.3"/><circle cx="958" cy="84" r="1.3"/><circle cx="830" cy="97" r="1.3"/><circle cx="746" cy="133" r="1.3"/><circle cx="925" cy="165" r="1.3"/><circle cx="892" cy="142" r="1.3"/><circle cx="846" cy="228" r="1.3"/><circle cx="991" cy="201" r="1.3"/><circle cx="1200" cy="288" r="1.5"/><circle cx="724" cy="320" r="1.3"/><circle cx="327" cy="303" r="1.3"/><circle cx="373" cy="371" r="1.3"/><circle cx="189" cy="390" r="1.3"/><circle cx="904" cy="432" r="1.3"/><circle cx="644" cy="455" r="1.3"/><circle cx="284" cy="544" r="1.3"/><circle cx="210" cy="604" r="1.3"/><circle cx="271" cy="597" r="1.3"/><circle cx="145" cy="653" r="1.3"/><circle cx="228" cy="669" r="1.3"/><circle cx="917" cy="650" r="1.3"/><circle cx="1028" cy="636" r="1.3"/><circle cx="1130" cy="689" r="1.3"/><circle cx="1174" cy="719" r="1.3"/><circle cx="1203" cy="751" r="1.3"/><circle cx="1239" cy="777" r="1.3"/><circle cx="595" cy="698" r="1.3"/><circle cx="453" cy="738" r="1.3"/><circle cx="372" cy="888" r="1.3"/><circle cx="413" cy="891" r="1.3"/><circle cx="1437" cy="351" r="1.3"/><circle cx="1398" cy="338" r="1.3"/><circle cx="1368" cy="428" r="1.3"/><circle cx="871" cy="787" r="1.3"/><circle cx="967" cy="843" r="1.3"/><circle cx="476" cy="847" r="1.3"/>
</g>

<!-- ================= CALLOUTS ================= -->
<g class="cc">
<circle cx="887" cy="17" r="13"/><text x="887" y="22">36</text>
<circle cx="947" cy="14" r="13"/><text x="947" y="19">77</text>
<circle cx="988" cy="32" r="13"/><text x="988" y="37">78</text>
<circle cx="840" cy="49" r="13"/><text x="840" y="54">66</text>
<circle cx="728" cy="91" r="13"/><text x="728" y="96">65</text>
<circle cx="681" cy="116" r="13"/><text x="681" y="121">87</text>
<circle cx="652" cy="140" r="13"/><text x="652" y="145">86</text>
<circle cx="632" cy="167" r="13"/><text x="632" y="172">85</text>
<circle cx="916" cy="119" r="13"/><text x="916" y="124">67</text>
<circle cx="955" cy="141" r="13"/><text x="955" y="146">68</text>
<circle cx="825" cy="158" r="13"/><text x="825" y="163">59</text>
<circle cx="846" cy="183" r="13"/><text x="846" y="188">60</text>
<circle cx="753" cy="203" r="13"/><text x="753" y="208">61</text>
<circle cx="721" cy="213" r="13"/><text x="721" y="218">62</text>
<circle cx="895" cy="206" r="13"/><text x="895" y="211">64</text>
<circle cx="727" cy="270" r="13"/><text x="727" y="275">63</text>
<circle cx="768" cy="252" r="13"/><text x="768" y="257">60</text>
<circle cx="837" cy="257" r="13"/><text x="837" y="262">38</text>
<circle cx="779" cy="278" r="13"/><text x="779" y="283">37</text>
<circle cx="853" cy="282" r="13"/><text x="853" y="287">57</text>
<circle cx="781" cy="303" r="13"/><text x="781" y="308">58</text>
<circle cx="823" cy="318" r="13"/><text x="823" y="323">56</text>
<circle cx="884" cy="323" r="13"/><text x="884" y="328">38</text>
<circle cx="909" cy="346" r="13"/><text x="909" y="351">37</text>
<circle cx="660" cy="335" r="13"/><text x="660" y="340">54</text>
<circle cx="1257" cy="145" r="13"/><text x="1257" y="150">80</text>
<circle cx="1057" cy="203" r="13"/><text x="1057" y="208">79</text>
<circle cx="983" cy="255" r="13"/><text x="983" y="260">69</text>
<circle cx="1086" cy="333" r="13"/><text x="1086" y="338">70</text>
<circle cx="1156" cy="260" r="13"/><text x="1156" y="265">36</text>
<circle cx="1403" cy="241" r="13"/><text x="1403" y="246">82</text>
<circle cx="1445" cy="241" r="13"/><text x="1445" y="246">83</text>
<circle cx="1240" cy="313" r="13"/><text x="1240" y="318">71</text>
<circle cx="1276" cy="328" r="13"/><text x="1276" y="333">72</text>
<circle cx="1311" cy="344" r="13"/><text x="1311" y="349">73</text>
<circle cx="1342" cy="361" r="13"/><text x="1342" y="366">74</text>
<circle cx="1394" cy="318" r="13"/><text x="1394" y="323">81</text>
<circle cx="1424" cy="311" r="13"/><text x="1424" y="316">78</text>
<circle cx="1455" cy="327" r="13"/><text x="1455" y="332">77</text>
<circle cx="1487" cy="339" r="13"/><text x="1487" y="344">36</text>
<circle cx="1516" cy="357" r="13"/><text x="1516" y="362">37</text>
<circle cx="1531" cy="382" r="13"/><text x="1531" y="387">38</text>
<circle cx="1553" cy="416" r="13"/><text x="1553" y="421">59</text>
<circle cx="1388" cy="380" r="13"/><text x="1388" y="385">38</text>
<circle cx="1301" cy="418" r="13"/><text x="1301" y="423">59</text>
<circle cx="1415" cy="411" r="13"/><text x="1415" y="416">60</text>
<circle cx="1442" cy="446" r="13"/><text x="1442" y="451">37</text>
<circle cx="1478" cy="455" r="13"/><text x="1478" y="460">38</text>
<circle cx="1513" cy="444" r="13"/><text x="1513" y="449">39</text>
<circle cx="1419" cy="471" r="13"/><text x="1419" y="476">37</text>
<circle cx="1391" cy="484" r="13"/><text x="1391" y="489">75</text>
<circle cx="1359" cy="471" r="13"/><text x="1359" y="476">61</text>
<circle cx="1324" cy="484" r="13"/><text x="1324" y="489">62</text>
<circle cx="1265" cy="499" r="13"/><text x="1265" y="504">76</text>
<circle cx="296" cy="262" r="13"/><text x="296" y="267">41</text>
<circle cx="305" cy="363" r="13"/><text x="305" y="368">52</text>
<circle cx="341" cy="393" r="13"/><text x="341" y="398">51</text>
<circle cx="130" cy="387" r="13"/><text x="130" y="392">36</text>
<circle cx="159" cy="421" r="13"/><text x="159" y="426">34</text>
<circle cx="212" cy="423" r="13"/><text x="212" y="428">31</text>
<circle cx="245" cy="438" r="13"/><text x="245" y="443">30</text>
<circle cx="275" cy="458" r="13"/><text x="275" y="463">29</text>
<circle cx="302" cy="482" r="13"/><text x="302" y="487">88</text>
<circle cx="966" cy="402" r="13"/><text x="966" y="407">54</text>
<circle cx="935" cy="488" r="13"/><text x="935" y="493">53</text>
<circle cx="1046" cy="467" r="13"/><text x="1046" y="472">38</text>
<circle cx="986" cy="527" r="13"/><text x="986" y="532">55</text>
<circle cx="1032" cy="539" r="13"/><text x="1032" y="544">37</text>
<circle cx="1089" cy="491" r="13"/><text x="1089" y="496">37</text>
<circle cx="1118" cy="497" r="13"/><text x="1118" y="502">38</text>
<circle cx="1121" cy="584" r="13"/><text x="1121" y="589">39</text>
<circle cx="582" cy="514" r="13"/><text x="582" y="519">40</text>
<circle cx="410" cy="552" r="13"/><text x="410" y="557">26</text>
<circle cx="241" cy="521" r="13"/><text x="241" y="526">17</text>
<circle cx="185" cy="568" r="13"/><text x="185" y="573">16</text>
<circle cx="217" cy="571" r="13"/><text x="217" y="576">9</text>
<circle cx="320" cy="577" r="13"/><text x="320" y="582">18</text>
<circle cx="348" cy="594" r="13"/><text x="348" y="599">8</text>
<circle cx="375" cy="613" r="13"/><text x="375" y="618">15</text>
<circle cx="235" cy="614" r="13"/><text x="235" y="619">14</text>
<circle cx="201" cy="638" r="13"/><text x="201" y="643">13</text>
<circle cx="343" cy="653" r="13"/><text x="343" y="658">12</text>
<circle cx="143" cy="701" r="13"/><text x="143" y="706">6</text>
<circle cx="228" cy="735" r="13"/><text x="228" y="740">7</text>
<circle cx="725" cy="592" r="13"/><text x="725" y="597">8</text>
<circle cx="765" cy="667" r="13"/><text x="765" y="672">27</text>
<circle cx="829" cy="680" r="13"/><text x="829" y="685">28</text>
<circle cx="859" cy="688" r="13"/><text x="859" y="693">37</text>
<circle cx="892" cy="706" r="13"/><text x="892" y="711">41</text>
<circle cx="936" cy="719" r="13"/><text x="936" y="724">38</text>
<circle cx="971" cy="729" r="13"/><text x="971" y="734">39</text>
<circle cx="1007" cy="585" r="13"/><text x="1007" y="590">42</text>
<circle cx="1146" cy="641" r="13"/><text x="1146" y="646">43</text>
<circle cx="1192" cy="672" r="13"/><text x="1192" y="677">44</text>
<circle cx="1240" cy="700" r="13"/><text x="1240" y="705">45</text>
<circle cx="1284" cy="721" r="13"/><text x="1284" y="726">45</text>
<circle cx="1394" cy="724" r="13"/><text x="1394" y="729">50</text>
<circle cx="1387" cy="754" r="13"/><text x="1387" y="759">49</text>
<circle cx="1383" cy="783" r="13"/><text x="1383" y="788">48</text>
<circle cx="1201" cy="858" r="13"/><text x="1201" y="863">46</text>
<circle cx="1438" cy="927" r="13"/><text x="1438" y="932">47</text>
<circle cx="1309" cy="923" r="13"/><text x="1309" y="928">48</text>
<circle cx="1337" cy="944" r="13"/><text x="1337" y="949">49</text>
<circle cx="1383" cy="957" r="13"/><text x="1383" y="962">50</text>
<circle cx="582" cy="654" r="13"/><text x="582" y="659">22</text>
<circle cx="591" cy="761" r="13"/><text x="591" y="766">23</text>
<circle cx="623" cy="747" r="13"/><text x="623" y="752">24</text>
<circle cx="664" cy="740" r="13"/><text x="664" y="745">25</text>
<circle cx="565" cy="791" r="13"/><text x="565" y="796">21</text>
<circle cx="746" cy="731" r="13"/><text x="746" y="736">29</text>
<circle cx="780" cy="752" r="13"/><text x="780" y="757">30</text>
<circle cx="813" cy="771" r="13"/><text x="813" y="776">31</text>
<circle cx="849" cy="802" r="13"/><text x="849" y="807">32</text>
<circle cx="909" cy="831" r="13"/><text x="909" y="836">33</text>
<circle cx="933" cy="849" r="13"/><text x="933" y="854">37</text>
<circle cx="944" cy="874" r="13"/><text x="944" y="879">35</text>
<circle cx="980" cy="882" r="13"/><text x="980" y="887">38</text>
<circle cx="1018" cy="887" r="13"/><text x="1018" y="892">39</text>
<circle cx="984" cy="774" r="13"/><text x="984" y="779">37</text>
<circle cx="1025" cy="788" r="13"/><text x="1025" y="793">36</text>
<circle cx="1041" cy="816" r="13"/><text x="1041" y="821">38</text>
<circle cx="1057" cy="846" r="13"/><text x="1057" y="851">39</text>
<circle cx="423" cy="677" r="13"/><text x="423" y="682">13</text>
<circle cx="496" cy="692" r="13"/><text x="496" y="697">8</text>
<circle cx="413" cy="773" r="13"/><text x="413" y="778">9</text>
<circle cx="489" cy="760" r="13"/><text x="489" y="765">19</text>
<circle cx="511" cy="784" r="13"/><text x="511" y="789">20</text>
<circle cx="546" cy="722" r="13"/><text x="546" y="727">9</text>
<circle cx="336" cy="803" r="13"/><text x="336" y="808">8</text>
<circle cx="493" cy="809" r="13"/><text x="493" y="814">9</text>
<circle cx="513" cy="832" r="13"/><text x="513" y="837">10</text>
<circle cx="409" cy="862" r="13"/><text x="409" y="867">12</text>
<circle cx="443" cy="880" r="13"/><text x="443" y="885">84</text>
<circle cx="481" cy="881" r="13"/><text x="481" y="886">11</text>
<circle cx="379" cy="929" r="13"/><text x="379" y="934">1</text>
<circle cx="408" cy="933" r="13"/><text x="408" y="938">2</text>
<circle cx="433" cy="944" r="13"/><text x="433" y="949">3</text>
<circle cx="464" cy="945" r="13"/><text x="464" y="950">4</text>
<circle cx="493" cy="933" r="13"/><text x="493" y="938">5</text>
</g>
</svg>
</body></html>
